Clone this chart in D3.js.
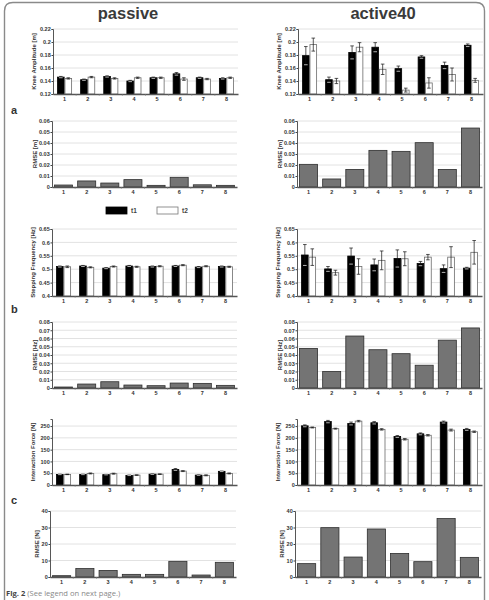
<!DOCTYPE html>
<html>
<head>
<meta charset="utf-8">
<script src="https://d3js.org/d3.v7.min.js"></script>
<style>
body { margin: 0; background: #fff; }
svg { display: block; font-family: "Liberation Sans", Arial, sans-serif; }
.tick-label { font-size: 5.5px; font-weight: bold; fill: #333; }
.ytitle { font-size: 6px; font-weight: bold; fill: #333; }
</style>
</head>
<body>
<svg width="489" height="600"></svg>
<script>
// subjects on the x axis
var subjects = ["1", "2", "3", "4", "5", "6", "7", "8"];

// knee amplitude [m]
var kneePassiveT1 = [0.146, 0.142, 0.147, 0.140, 0.145, 0.151, 0.145, 0.144];
var kneePassiveT1Err = [0.001, 0.001, 0.001, 0.001, 0.001, 0.002, 0.001, 0.001];
var kneePassiveT2 = [0.144, 0.146, 0.144, 0.145, 0.145, 0.143, 0.143, 0.145];
var kneePassiveT2Err = [0.001, 0.001, 0.001, 0.001, 0.001, 0.002, 0.001, 0.001];
var kneeActiveT1 = [0.179, 0.142, 0.184, 0.192, 0.159, 0.177, 0.164, 0.195];
var kneeActiveT1Err = [0.014, 0.004, 0.010, 0.007, 0.004, 0.002, 0.005, 0.002];
var kneeActiveT2 = [0.196, 0.140, 0.192, 0.158, 0.126, 0.137, 0.150, 0.141];
var kneeActiveT2Err = [0.010, 0.004, 0.007, 0.008, 0.003, 0.008, 0.010, 0.003];
var kneeRmsePassive = [0.0018, 0.0055, 0.0036, 0.0067, 0.0015, 0.0088, 0.0020, 0.0015];
var kneeRmseActive = [0.0206, 0.0073, 0.0160, 0.0333, 0.0324, 0.0403, 0.0160, 0.0536];

// stepping frequency [Hz]
var freqPassiveT1 = [0.510, 0.512, 0.504, 0.512, 0.510, 0.512, 0.508, 0.510];
var freqPassiveT1Err = [0.002, 0.002, 0.002, 0.002, 0.002, 0.002, 0.002, 0.002];
var freqPassiveT2 = [0.509, 0.507, 0.510, 0.509, 0.511, 0.515, 0.511, 0.509];
var freqPassiveT2Err = [0.003, 0.002, 0.002, 0.002, 0.002, 0.002, 0.002, 0.002];
var freqActiveT1 = [0.553, 0.501, 0.549, 0.516, 0.540, 0.521, 0.502, 0.504];
var freqActiveT1Err = [0.039, 0.009, 0.030, 0.022, 0.032, 0.008, 0.014, 0.003];
var freqActiveT2 = [0.545, 0.487, 0.510, 0.533, 0.539, 0.545, 0.545, 0.563];
var freqActiveT2Err = [0.031, 0.009, 0.029, 0.035, 0.026, 0.010, 0.039, 0.044];
var freqRmsePassive = [0.0012, 0.0048, 0.0076, 0.0036, 0.0028, 0.0060, 0.0056, 0.0032];
var freqRmseActive = [0.048, 0.020, 0.063, 0.0464, 0.0416, 0.0276, 0.058, 0.0728];

// interaction force [N]
var forcePassiveT1 = [45, 45, 44, 41, 46, 66, 42, 58];
var forcePassiveT1Err = [1, 1, 1, 1, 1, 4, 1, 1];
var forcePassiveT2 = [45, 49, 48, 42, 46, 59, 41, 49];
var forcePassiveT2Err = [1, 2, 2, 1, 1, 2, 2, 2];
var forceActiveT1 = [251, 269, 261, 264, 206, 217, 267, 236];
var forceActiveT1Err = [4, 5, 6, 5, 4, 4, 4, 4];
var forceActiveT2 = [244, 239, 271, 236, 194, 211, 233, 226];
var forceActiveT2Err = [2, 2, 3, 3, 3, 3, 4, 3];
var forceRmsePassive = [0.8, 5.1, 4.0, 1.6, 1.6, 9.5, 1.2, 8.9];
var forceRmseActive = [8.1, 29.9, 12.1, 29.1, 14.3, 9.3, 35.4, 11.9];

// y axis ticks and titles per row
var rowTitles = ["Knee Amplitude [m]", "RMSE [m]", "Stepping Frequency [Hz]", "RMSE [Hz]", "Interaction Force [N]", "RMSE [N]"];
var rowTicks = [
  [0.12, 0.14, 0.16, 0.18, 0.2, 0.22],
  [0, 0.01, 0.02, 0.03, 0.04, 0.05, 0.06],
  [0.4, 0.45, 0.5, 0.55, 0.6, 0.65],
  [0, 0.01, 0.02, 0.03, 0.04, 0.05, 0.06, 0.07, 0.08],
  [0, 50, 100, 150, 200, 250],
  [0, 10, 20, 30, 40]
];
var rowDomains = [[0.12, 0.22], [0, 0.06], [0.4, 0.65], [0, 0.08], [0, 280], [0, 40]];
var columnTitles = ["passive", "active40"];
var panelLetters = ["a", "b", "c"];
var legendLabels = ["t1", "t2"];

var svg = d3.select("svg");

// layout of the rows (left column; right column is shifted by 245)
var rowTop = [29, 121, 229, 322, 419, 511],
    rowBottom = [94, 187, 296, 388, 485, 577],
    rowLeft = [53, 52, 52, 52, 52, 50],
    rowRight = [238, 237, 237, 237, 237, 236],
    titleGap = [19, 17, 19, 17, 19, 13],
    colShift = 245;

var rows = [
  {grouped: true, data: [[kneePassiveT1, kneePassiveT1Err, kneePassiveT2, kneePassiveT2Err], [kneeActiveT1, kneeActiveT1Err, kneeActiveT2, kneeActiveT2Err]]},
  {grouped: false, data: [kneeRmsePassive, kneeRmseActive]},
  {grouped: true, data: [[freqPassiveT1, freqPassiveT1Err, freqPassiveT2, freqPassiveT2Err], [freqActiveT1, freqActiveT1Err, freqActiveT2, freqActiveT2Err]]},
  {grouped: false, data: [freqRmsePassive, freqRmseActive]},
  {grouped: true, data: [[forcePassiveT1, forcePassiveT1Err, forcePassiveT2, forcePassiveT2Err], [forceActiveT1, forceActiveT1Err, forceActiveT2, forceActiveT2Err]]},
  {grouped: false, data: [forceRmsePassive, forceRmseActive]}
];

function fmt(v) { return String(+v.toFixed(3)); }

rows.forEach(function(row, r) {
  [0, 1].forEach(function(c) {
    var x0 = rowLeft[r] + c * colShift, x1 = rowRight[r] + c * colShift;
    var y = d3.scaleLinear().domain(rowDomains[r]).range([rowBottom[r], rowTop[r]]);
    var x = d3.scaleBand().domain(subjects).range([x0, x1]);
    var g = svg.append("g");

    // grid
    g.selectAll(".grid").data(rowTicks[r].slice(1)).enter().append("line")
      .attr("x1", x0).attr("x2", x1)
      .attr("y1", function(d) { return y(d); }).attr("y2", function(d) { return y(d); })
      .attr("stroke", "#e2e2e2").attr("stroke-width", 1);

    // bars
    if (row.grouped) {
      var set = row.data[c];
      var inner = d3.scaleBand().domain([0, 1]).range([0, x.bandwidth()]).paddingOuter(0.55).paddingInner(0);
      var series = [{v: set[0], e: set[1], fill: "#000", stroke: "#000"},
                    {v: set[2], e: set[3], fill: "#fff", stroke: "#6b6b6b"}];
      series.forEach(function(s, k) {
        g.selectAll(".b" + k).data(subjects).enter().append("rect")
          .attr("x", function(d) { return x(d) + inner(k) + 0.4; })
          .attr("width", inner.bandwidth() - 0.8)
          .attr("y", function(d, i) { return y(s.v[i]); })
          .attr("height", function(d, i) { return y.range()[0] - y(s.v[i]); })
          .attr("fill", s.fill).attr("stroke", s.stroke).attr("stroke-width", 0.8);
        var cx = function(d) { return x(d) + inner(k) + inner.bandwidth() / 2; };
        var eb = g.selectAll(".e" + k).data(subjects).enter().append("g");
        eb.append("line")
          .attr("x1", cx).attr("x2", cx)
          .attr("y1", function(d, i) { return y(s.v[i] + s.e[i]); })
          .attr("y2", function(d, i) { return y(s.v[i] - s.e[i]); })
          .attr("stroke", "#111").attr("stroke-width", 0.7);
        [1, -1].forEach(function(sg) {
          eb.append("line")
            .attr("x1", function(d) { return cx(d) - 1.8; }).attr("x2", function(d) { return cx(d) + 1.8; })
            .attr("y1", function(d, i) { return y(s.v[i] + sg * s.e[i]); })
            .attr("y2", function(d, i) { return y(s.v[i] + sg * s.e[i]); })
            .attr("stroke", sg > 0 ? "#111" : (k === 0 ? "#fff" : "#111")).attr("stroke-width", 0.7);
        });
      });
    } else {
      var vals = row.data[c];
      var xb = x.copy().paddingInner(0.22).paddingOuter(0.11);
      g.selectAll(".bar").data(subjects).enter().append("rect")
        .attr("x", function(d) { return xb(d); })
        .attr("width", xb.bandwidth())
        .attr("y", function(d, i) { return y(vals[i]); })
        .attr("height", function(d, i) { return y.range()[0] - y(vals[i]); })
        .attr("fill", "#747474").attr("stroke", "#2e2e2e").attr("stroke-width", 0.8);
    }

    // y axis
    var yAxis = d3.axisLeft(y).tickValues(rowTicks[r]).tickSize(1.5).tickPadding(0.8).tickFormat(fmt);
    var ya = g.append("g").attr("transform", "translate(" + x0 + ",0)").call(yAxis);
    ya.select(".domain").attr("stroke", "#444").attr("stroke-width", 0.9);
    ya.selectAll(".tick line").attr("stroke", "#444");
    ya.selectAll("text").attr("class", "tick-label").attr("font-family", null).attr("font-size", null);

    // x axis
    var xAxis = d3.axisBottom(x).tickSize(0).tickPadding(3.5);
    var xa = g.append("g").attr("transform", "translate(0," + y.range()[0] + ")").call(xAxis);
    xa.select(".domain").attr("stroke", "#555").attr("stroke-width", 1.3);
    xa.selectAll("text").attr("class", "tick-label").attr("font-family", null).attr("font-size", null);
    xa.selectAll(".sep").data(subjects.slice(1)).enter().append("line")
      .attr("x1", function(d) { return x(d); }).attr("x2", function(d) { return x(d); })
      .attr("y1", 0).attr("y2", 1.8).attr("stroke", "#777").attr("stroke-width", 0.6);

    // y title
    g.append("text").attr("class", "ytitle")
      .attr("transform", "translate(" + (x0 - titleGap[r]) + "," + ((rowTop[r] + rowBottom[r]) / 2) + ") rotate(-90)")
      .attr("text-anchor", "middle").attr("dy", "0.35em")
      .text(rowTitles[r]);
  });
});

// column titles
columnTitles.forEach(function(t, c) {
  svg.append("text").attr("x", 128 + c * 255).attr("y", 19)
    .attr("text-anchor", "middle").attr("font-size", 16.5).attr("font-weight", "bold")
    .attr("fill", "#3a3a3a").text(t);
});

// panel letters
var letterY = [114, 313, 504];
panelLetters.forEach(function(l, i) {
  svg.append("text").attr("x", 11).attr("y", letterY[i])
    .attr("font-size", 11).attr("font-weight", "bold").attr("fill", "#333").text(l);
});

// legend
var legend = svg.append("g");
legendLabels.forEach(function(l, i) {
  legend.append("rect").attr("x", 106 + i * 51).attr("y", 207).attr("width", 21).attr("height", 7)
    .attr("fill", i === 0 ? "#000" : "#fff").attr("stroke", i === 0 ? "#000" : "#777").attr("stroke-width", 0.8);
  legend.append("text").attr("x", 131 + i * 51).attr("y", 213).attr("font-size", 6.5)
    .attr("font-weight", "bold").attr("fill", "#444").text(l);
});

// frame
svg.append("path")
  .attr("d", "M4.5,600 V11 Q4.5,2.5 13,2.5 H476 Q484.5,2.5 484.5,11 V600")
  .attr("fill", "none").attr("stroke", "#8a8a8a").attr("stroke-width", 1.4);

// caption
var cap = svg.append("text").attr("x", 6).attr("y", 596).attr("font-size", 7.6).attr("font-family", "'Open Sans', sans-serif");
cap.append("tspan").attr("font-weight", "bold").attr("fill", "#444").text("Fig. 2 ");
cap.append("tspan").attr("fill", "#888").text("(See legend on next page.)");
</script>
</body>
</html>
